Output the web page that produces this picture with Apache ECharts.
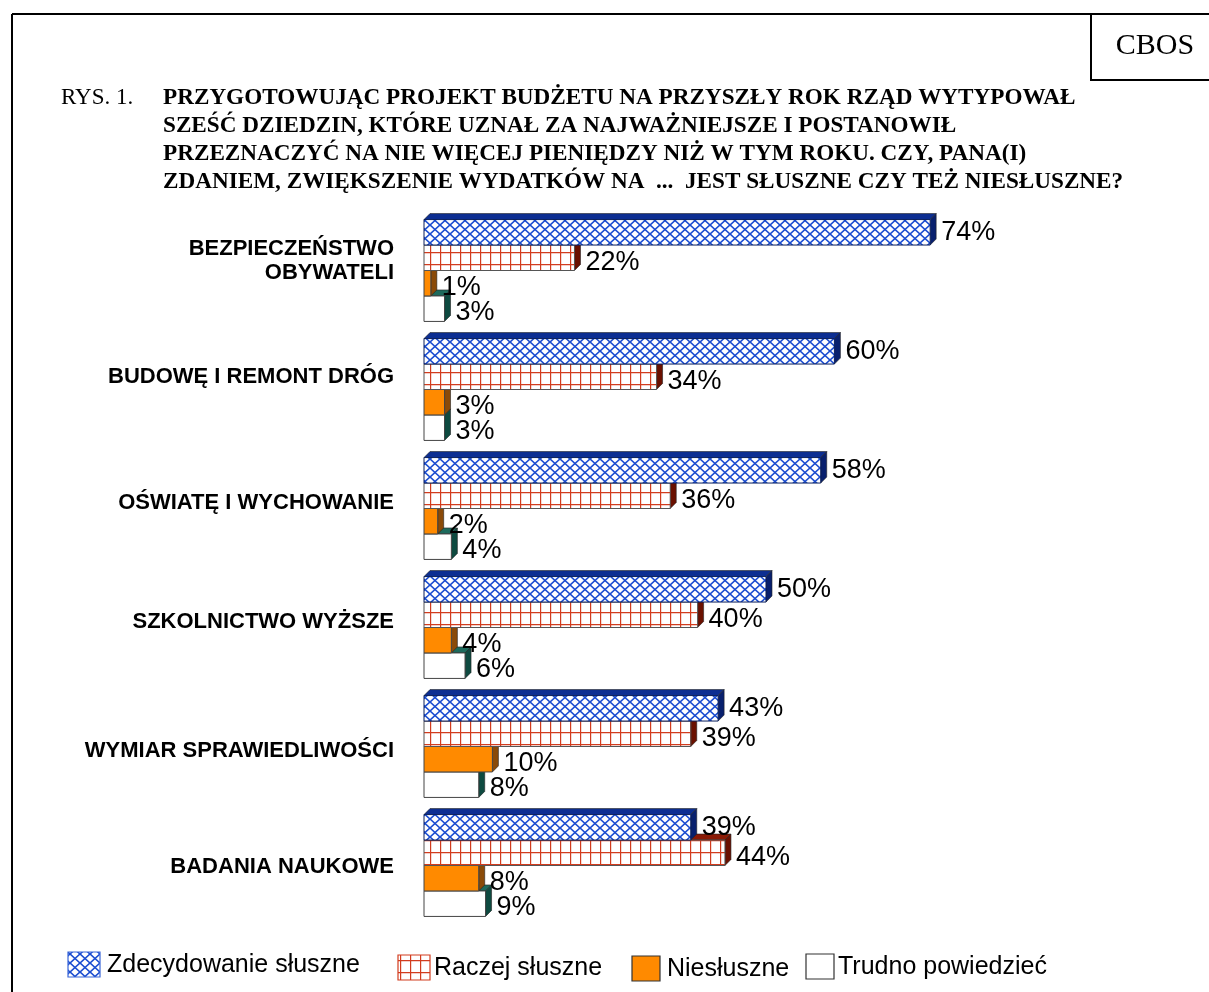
<!DOCTYPE html>
<html><head><meta charset="utf-8">
<script src="https://cdn.jsdelivr.net/npm/echarts@6/dist/echarts.min.js"></script>
<style>html,body{margin:0;padding:0;background:#fff}#c{width:1209px;height:992px}</style>
</head><body><div id="c"></div>
<script>
const categories = ['BEZPIECZEŃSTWO\nOBYWATELI','BUDOWĘ I REMONT DRÓG','OŚWIATĘ I WYCHOWANIE','SZKOLNICTWO WYŻSZE','WYMIAR SPRAWIEDLIWOŚCI','BADANIA NAUKOWE'];
const seriesNames = ['Zdecydowanie słuszne','Raczej słuszne','Niesłuszne','Trudno powiedzieć'];
const zdecydowanie = [74,60,58,50,43,39];
const raczej = [22,34,36,40,39,44];
const niesluszne = [1,3,2,4,10,8];
const trudno = [3,3,4,6,8,9];
const titleLines = ['PRZYGOTOWUJĄC PROJEKT BUDŻETU NA PRZYSZŁY ROK RZĄD WYTYPOWAŁ','SZEŚĆ DZIEDZIN, KTÓRE UZNAŁ ZA NAJWAŻNIEJSZE I POSTANOWIŁ','PRZEZNACZYĆ NA NIE WIĘCEJ PIENIĘDZY NIŻ W TYM ROKU. CZY, PANA(I)','ZDANIEM, ZWIĘKSZENIE WYDATKÓW NA  ...  JEST SŁUSZNE CZY TEŻ NIESŁUSZNE?'];
const allValues = [zdecydowanie, raczej, niesluszne, trudno];

// style-only: vertical nudge of category labels (px, positive = up)
const labelNudge = [10,13,6,6,-4,-1];

function makeCross(){
  const c=document.createElement('canvas'); c.width=10; c.height=9;
  const g=c.getContext('2d'); g.fillStyle='#fff'; g.fillRect(0,0,10,9);
  g.strokeStyle='#1a4cd0'; g.lineWidth=1.6;
  g.beginPath(); g.moveTo(-1,-0.9); g.lineTo(11,9.9); g.moveTo(11,-0.9); g.lineTo(-1,9.9); g.stroke();
  return c;
}
function makeGrid(){
  const c=document.createElement('canvas'); c.width=10; c.height=12;
  const g=c.getContext('2d'); g.fillStyle='#fff'; g.fillRect(0,0,10,12);
  g.strokeStyle='#d23c1e'; g.lineWidth=1.4;
  g.beginPath(); g.moveTo(0.5,0); g.lineTo(0.5,12); g.moveTo(0,0.5); g.lineTo(10,0.5); g.stroke();
  return c;
}
const crossPat = {image: makeCross(), repeat:'repeat'};
const gridPat = {image: makeGrid(), repeat:'repeat'};
const styles = [
  {front: crossPat, top:'#0c2e92', side:'#08206e', stroke:'#0a1f5c', dy:0},
  {front: gridPat, top:'#8a1a05', side:'#6a1000', stroke:'#555', dy:5},
  {front: '#ff8a00', top:'#a05a10', side:'#8a4a08', stroke:'#444', dy:4},
  {front: '#ffffff', top:'#1d6a5c', side:'#0e4a40', stroke:'#444', dy:4}
];
const D = 6;
function makeSeries(si){
  return {
    type:'custom', name: seriesNames[si], z: 10-si,
    data: allValues[si].map((v,i)=>[v,i]),
    renderItem(params, api){
      const v=api.value(0), c=api.value(1);
      const p0=api.coord([0,c]), p1=api.coord([v,c]);
      const band=api.size([0,1])[1];
      const h=band*0.214;
      const y=p0[1]-2*h+si*h;
      const x0=p0[0], x1=p1[0];
      const st=styles[si];
      return {type:'group', children:[
        {type:'polygon', shape:{points:[[x0,y],[x0+D,y-D],[x1+D,y-D],[x1,y]]}, style:{fill:st.top, stroke:'#222', lineWidth:0.6}},
        {type:'polygon', shape:{points:[[x1,y],[x1+D,y-D],[x1+D,y+h-D],[x1,y+h]]}, style:{fill:st.side, stroke:'#222', lineWidth:0.6}},
        {type:'rect', shape:{x:x0,y:y,width:x1-x0,height:h}, style:{fill:st.front, stroke:st.stroke, lineWidth:1}},
        {type:'text', style:{text:v+'%', x:x1+D+5, y:y+h/2+st.dy, verticalAlign:'middle', align:'left', font:'27px "Liberation Sans", Arial', fill:'#000'}}
      ]};
    }
  };
}
const rich = {};
labelNudge.forEach((n,i)=>{
  rich['s'+i] = {fontSize:1, lineHeight:Math.abs(2*n)};
});
const chart = echarts.init(document.getElementById('c'), null, {renderer:'canvas'});
const legendX = [[68,107,965],[398,434,968],[632,667,969],[806,838,967]];
const legendFills = [crossPat, gridPat, '#ff8a00', '#ffffff'];
const legendStroke = ['#3a66d8','#d23c1e','#333','#333'];
const graphics = [
  {type:'line', shape:{x1:12,y1:14,x2:1209,y2:14}, style:{stroke:'#000', lineWidth:2}},
  {type:'line', shape:{x1:12,y1:14,x2:12,y2:992}, style:{stroke:'#000', lineWidth:2}},
  {type:'rect', shape:{x:1091,y:14,width:130,height:66}, style:{fill:'none', stroke:'#000', lineWidth:2}},
  {type:'text', style:{text:'CBOS', x:1155, y:46, align:'center', verticalAlign:'middle', font:'30px "Liberation Serif", "Times New Roman"', fill:'#000'}},
  {type:'text', style:{text:'RYS. 1.', x:61, y:98, verticalAlign:'middle', font:'23px "Liberation Serif", "Times New Roman"', fill:'#000'}},
  {type:'text', style:{text:titleLines.join('\n'), x:163, y:84, verticalAlign:'top', lineHeight:28, font:'bold 23.2px "Liberation Serif", "Times New Roman"', fill:'#000'}}
];
seriesNames.forEach((n,i)=>{
  const [ix,tx,ty]=legendX[i];
  graphics.push({type:'rect', shape:{x:ix,y:ty-13,width:i<2?32:28,height:25}, style:{fill:legendFills[i], stroke:legendStroke[i], lineWidth:1.2}});
  graphics.push({type:'text', style:{text:n, x:tx, y:ty, verticalAlign:'middle', font:'25px "Liberation Sans", Arial', fill:'#000'}});
});
chart.setOption({
  animation:false,
  grid:{left:424, top:211, width:684, height:714, containLabel:false},
  xAxis:{type:'value', min:0, max:100, show:false},
  yAxis:{type:'category', inverse:true, data:categories,
    axisLine:{show:false}, axisTick:{show:false}, splitLine:{show:false},
    axisLabel:{margin:30, align:'right', fontFamily:'"Liberation Sans", Arial', fontWeight:'bold', fontSize:22, color:'#000', lineHeight:24,
      formatter:(val, idx)=>{
        const n = labelNudge[idx];
        const sp = '{s'+idx+'| }';
        if (n>0) return val + '\n' + sp;
        if (n<0) return sp + '\n' + val;
        return val;
      },
      rich: rich}},
  series:[0,1,2,3].map(makeSeries),
  graphic:graphics
});
</script></body></html>
